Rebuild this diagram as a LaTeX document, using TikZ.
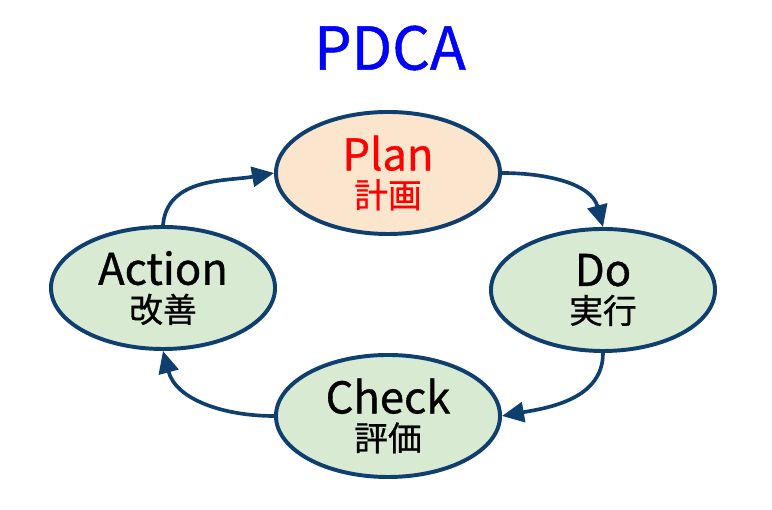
\documentclass[tikz,border=0pt]{standalone}
\usepackage{fontspec}
\setmainfont{Noto Sans CJK JP}[FakeBold=0.8]
\usepackage{tikz}
\usetikzlibrary{shapes.geometric,arrows.meta}
\definecolor{pdcaline}{HTML}{0E3F6E}
\definecolor{greenfill}{HTML}{D9EAD3}
\definecolor{peachfill}{HTML}{FBE5CD}
\tikzset{
  phase/.style={ellipse, draw=pdcaline, line width=2.8pt, fill=greenfill,
    minimum width=5.6cm, minimum height=3.05cm, inner sep=0pt, align=center},
  cyclearrow/.style={-{Triangle[length=0.55cm,width=0.5cm]}, draw=pdcaline, line width=2.6pt}
}
\newcommand{\phasetext}[2]{{\fontsize{31pt}{31pt}\selectfont #1}\\[5pt]{\fontsize{24pt}{26pt}\selectfont #2}}

\begin{document}
\begin{tikzpicture}[x=0.025cm, y=0.025cm]
  \useasboundingbox (0,0) rectangle (772,510);
  \node[text=blue, font=\fontsize{42pt}{44pt}\selectfont] (title) at (390,462) {PDCA};
  \node[phase, fill=peachfill, text=red] (plan) at (388,337) {\phasetext{Plan}{計画}};
  \node[phase] (do) at (603,220) {\phasetext{Do}{実行}};
  \node[phase] (check) at (388,94) {\phasetext{Check}{評価}};
  \node[phase] (act) at (163,222) {\phasetext{Action}{改善}};
  \draw[cyclearrow] (plan.east) to[out=0, in=105] (do.north);
  \draw[cyclearrow] (do.south) to[out=-90, in=10] (check.east);
  \draw[cyclearrow] (check.west) to[out=180, in=-75] (act.south);
  \draw[cyclearrow] (act.north) to[out=85, in=190] (plan.west);
\end{tikzpicture}
\end{document}
